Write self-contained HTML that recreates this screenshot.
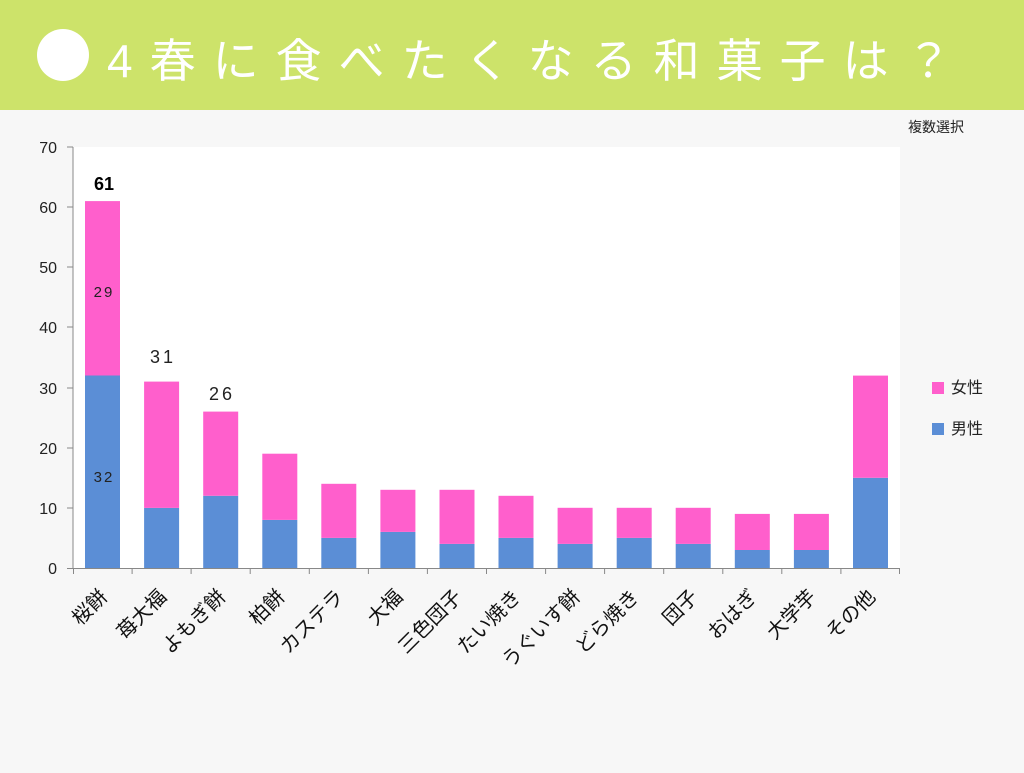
<!DOCTYPE html>
<html><head><meta charset="utf-8"><style>
body{margin:0;width:1024px;height:768px;overflow:hidden;background:#f7f7f7;font-family:"Liberation Sans","Noto Sans CJK JP",sans-serif}
</style></head><body>
<svg width="1024" height="768" xmlns="http://www.w3.org/2000/svg" font-family="Liberation Sans, Noto Sans CJK JP, sans-serif">
<rect x="0" y="0" width="1024" height="768" fill="#f7f7f7"/>
<rect x="0" y="0" width="1024" height="110" fill="#cde36a"/>
<circle cx="63" cy="55" r="26" fill="#fff"/>
<text x="107" y="77" font-size="46" fill="#fff" letter-spacing="17">4春に食べたくなる和菓子は？</text>
<text x="908" y="132" font-size="14" fill="#222">複数選択</text>
<rect x="73" y="147" width="827" height="421" fill="#fff"/>
<g fill="#5b8ed6">
<rect x="85" y="375.5" width="35" height="192.5"/>
<rect x="144.1" y="507.9" width="35" height="60.1"/>
<rect x="203.2" y="495.8" width="35" height="72.2"/>
<rect x="262.3" y="519.9" width="35" height="48.1"/>
<rect x="321.3" y="537.9" width="35" height="30.1"/>
<rect x="380.4" y="531.9" width="35" height="36.1"/>
<rect x="439.5" y="543.9" width="35" height="24.1"/>
<rect x="498.5" y="537.9" width="35" height="30.1"/>
<rect x="557.6" y="543.9" width="35" height="24.1"/>
<rect x="616.7" y="537.9" width="35" height="30.1"/>
<rect x="675.7" y="543.9" width="35" height="24.1"/>
<rect x="734.8" y="550" width="35" height="18"/>
<rect x="793.9" y="550" width="35" height="18"/>
<rect x="853" y="477.8" width="35" height="90.2"/>
</g>
<g fill="#ff5fcc">
<rect x="85" y="201.1" width="35" height="174.4"/>
<rect x="144.1" y="381.6" width="35" height="126.3"/>
<rect x="203.2" y="411.6" width="35" height="84.2"/>
<rect x="262.3" y="453.7" width="35" height="66.2"/>
<rect x="321.3" y="483.8" width="35" height="54.1"/>
<rect x="380.4" y="489.8" width="35" height="42.1"/>
<rect x="439.5" y="489.8" width="35" height="54.1"/>
<rect x="498.5" y="495.8" width="35" height="42.1"/>
<rect x="557.6" y="507.8" width="35" height="36.1"/>
<rect x="616.7" y="507.8" width="35" height="30.1"/>
<rect x="675.7" y="507.8" width="35" height="36.1"/>
<rect x="734.8" y="513.9" width="35" height="36.1"/>
<rect x="793.9" y="513.9" width="35" height="36.1"/>
<rect x="853" y="375.6" width="35" height="102.2"/>
</g>
<g stroke="#888" stroke-width="1">
<line x1="73" y1="147" x2="73" y2="569"/>
<line x1="67" y1="568.5" x2="900" y2="568.5"/>
<line x1="67" y1="147" x2="73" y2="147"/><line x1="67" y1="207" x2="73" y2="207"/><line x1="67" y1="267" x2="73" y2="267"/><line x1="67" y1="327" x2="73" y2="327"/><line x1="67" y1="388" x2="73" y2="388"/><line x1="67" y1="448" x2="73" y2="448"/><line x1="67" y1="508" x2="73" y2="508"/>
<line x1="73.5" y1="568" x2="73.5" y2="574"/>
<line x1="132.1" y1="568" x2="132.1" y2="574"/><line x1="191.1" y1="568" x2="191.1" y2="574"/><line x1="250.2" y1="568" x2="250.2" y2="574"/><line x1="309.3" y1="568" x2="309.3" y2="574"/><line x1="368.4" y1="568" x2="368.4" y2="574"/><line x1="427.4" y1="568" x2="427.4" y2="574"/><line x1="486.5" y1="568" x2="486.5" y2="574"/><line x1="545.6" y1="568" x2="545.6" y2="574"/><line x1="604.6" y1="568" x2="604.6" y2="574"/><line x1="663.7" y1="568" x2="663.7" y2="574"/><line x1="722.8" y1="568" x2="722.8" y2="574"/><line x1="781.8" y1="568" x2="781.8" y2="574"/><line x1="840.9" y1="568" x2="840.9" y2="574"/><line x1="899.5" y1="568" x2="899.5" y2="574"/>
</g>
<g font-size="16" fill="#222" text-anchor="end">
<text x="57" y="153">70</text><text x="57" y="213">60</text><text x="57" y="273">50</text><text x="57" y="333">40</text><text x="57" y="394">30</text><text x="57" y="454">20</text><text x="57" y="514">10</text><text x="57" y="574">0</text>
</g>
<g font-size="20" fill="#111" text-anchor="end">
<text x="108.5" y="598" transform="rotate(-45 108.5 598)">桜餅</text>
<text x="167.6" y="598" transform="rotate(-45 167.6 598)">苺大福</text>
<text x="226.7" y="598" transform="rotate(-45 226.7 598)">よもぎ餅</text>
<text x="285.8" y="598" transform="rotate(-45 285.8 598)">柏餅</text>
<text x="344.8" y="598" transform="rotate(-45 344.8 598)">カステラ</text>
<text x="403.9" y="598" transform="rotate(-45 403.9 598)">大福</text>
<text x="463" y="598" transform="rotate(-45 463 598)">三色団子</text>
<text x="522" y="598" transform="rotate(-45 522 598)">たい焼き</text>
<text x="581.1" y="598" transform="rotate(-45 581.1 598)">うぐいす餅</text>
<text x="640.2" y="598" transform="rotate(-45 640.2 598)">どら焼き</text>
<text x="699.2" y="598" transform="rotate(-45 699.2 598)">団子</text>
<text x="758.3" y="598" transform="rotate(-45 758.3 598)">おはぎ</text>
<text x="817.4" y="598" transform="rotate(-45 817.4 598)">大学芋</text>
<text x="876.5" y="598" transform="rotate(-45 876.5 598)">その他</text>
</g>
<text x="104" y="190" font-size="18" font-weight="bold" text-anchor="middle" fill="#000">61</text>
<text x="104" y="297" font-size="15" text-anchor="middle" fill="#222" letter-spacing="2">29</text>
<text x="104" y="482" font-size="15" text-anchor="middle" fill="#222" letter-spacing="2">32</text>
<text x="163" y="363" font-size="18" text-anchor="middle" fill="#222" letter-spacing="3">31</text>
<text x="222" y="400" font-size="18" text-anchor="middle" fill="#222" letter-spacing="3">26</text>
<rect x="932" y="382" width="12" height="12" fill="#ff5fcc"/>
<text x="951" y="393" font-size="16" fill="#222">女性</text>
<rect x="932" y="423" width="12" height="12" fill="#5b8ed6"/>
<text x="951" y="434" font-size="16" fill="#222">男性</text>
</svg>
</body></html>
